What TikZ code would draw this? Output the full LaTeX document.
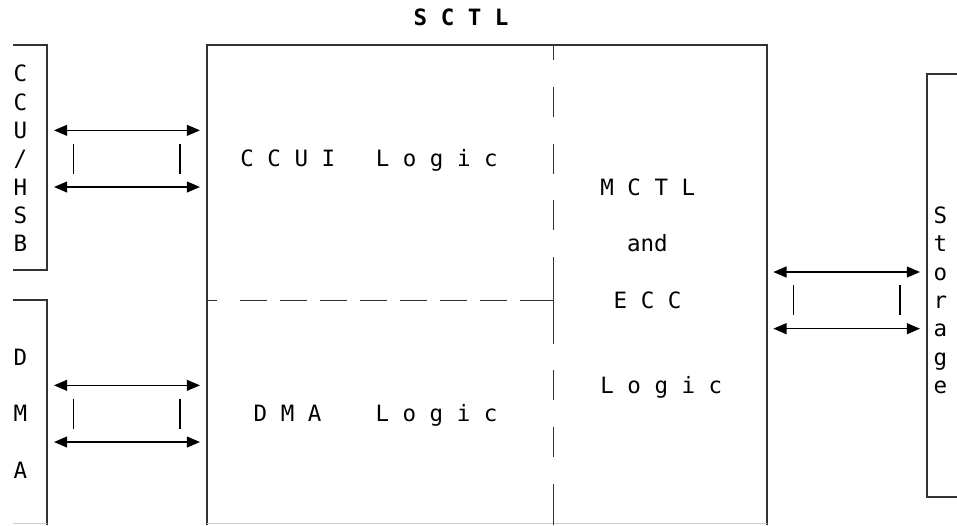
\documentclass[tikz,border=0pt]{standalone}
\usepackage{fontspec}
\setmonofont{DejaVu Sans Mono}
\usetikzlibrary{arrows.meta}
\definecolor{BoxLine}{HTML}{333333}
\definecolor{FaintLine}{HTML}{CCCCCC}

\tikzset{
  gridtxt/.style={anchor=west, inner sep=0pt, text height=9.2pt, text depth=0pt,
    font=\ttfamily\fontsize{12.8}{15}\selectfont},
  boxline/.style={BoxLine, line width=1.1pt},
  divider/.style={BoxLine, line width=0.95pt},
  link/.style={black, line width=0.85pt,
    {Triangle[length=7.5pt,width=6.2pt]}-{Triangle[length=7.5pt,width=6.2pt]}},
  bar/.style={black, line width=0.8pt}
}

\begin{document}
\begin{tikzpicture}[x=0.26667cm, y=-0.56667cm]
  \useasboundingbox (-0.5,-0.6) rectangle (71.275,17.93);
  % Title
  \node[gridtxt, font=\ttfamily\bfseries\fontsize{12.8}{15}\selectfont] (title)
    at (30.5,0) {S~C~T~L};
  % SCTL outline
  \draw[boxline] (15,17.93) -- (15,1) -- (57,1) -- (57,17.93);
  \draw[FaintLine, line width=0.6pt] (15,17.88) -- (57,17.88);
  % inner dividers
  \draw[divider, dash pattern=on 17.07pt off 15.17pt, dash phase=8.54pt]
    (41,1) -- (41,17.93);
  \draw[divider] (41,9) -- (41,11);
  \draw[divider] (41,17) -- (41,17.93);
  \draw[divider] (15,10) -- (15.8,10);
  \foreach \c in {17.5,20.5,...,35.5}
    \draw[divider] (\c,10) -- ++(2,0);
  \draw[divider] (38.5,10) -- (41,10);
  % outside boxes
  \draw[boxline] (0.475,1) -- (3,1) -- (3,8.93) -- (0.475,8.93);
  \draw[boxline] (0.475,10) -- (3,10) -- (3,17.93);
  \draw[FaintLine, line width=0.6pt] (0.475,17.88) -- (3,17.88);
  \draw[boxline] (71.3,2) -- (69,2) -- (69,16.94) -- (71.3,16.94);

  % Labels
  \foreach \ch [count=\i from 2] in {C,C,U,/,H,S,B}
    \node[gridtxt] (hsb\i) at (0.5,\i) {\ch};
  \node[gridtxt] (dmaD) at (0.5,12) {D};
  \node[gridtxt] (dmaM) at (0.5,14) {M};
  \node[gridtxt] (dmaA) at (0.5,16) {A};
  \foreach \ch [count=\i from 7] in {S,t,o,r,a,g,e}
    \node[gridtxt] (stor\i) at (69.5,\i) {\ch};
  \node[gridtxt] (ccuilogic) at (17.5,5) {C~C~U~I~~~L~o~g~i~c};
  \node[gridtxt] (dmalogic) at (18.5,14) {D~M~A~~~~L~o~g~i~c};
  \node[gridtxt] (mctl) at (44.5,6) {M~C~T~L};
  \node[gridtxt] (and) at (46.5,8) {and};
  \node[gridtxt] (ecc) at (45.5,10) {E~C~C};
  \node[gridtxt] (mlogic) at (44.5,13) {L~o~g~i~c};

  % Interfaces
  \coordinate (hsbTop) at (3.55,4);   \coordinate (ccuiTop) at (14.5,4);
  \coordinate (hsbBot) at (3.55,6);   \coordinate (ccuiBot) at (14.5,6);
  \coordinate (dmaTop) at (3.55,13);  \coordinate (dlogTop) at (14.5,13);
  \coordinate (dmaBot) at (3.55,15);  \coordinate (dlogBot) at (14.5,15);
  \coordinate (mctlTop) at (57.5,9);  \coordinate (storTop) at (68.5,9);
  \coordinate (mctlBot) at (57.5,11); \coordinate (storBot) at (68.5,11);
  \draw[link] (hsbTop) -- (ccuiTop);
  \draw[link] (hsbBot) -- (ccuiBot);
  \draw[link] (dmaTop) -- (dlogTop);
  \draw[link] (dmaBot) -- (dlogBot);
  \draw[link] (mctlTop) -- (storTop);
  \draw[link] (mctlBot) -- (storBot);
  % bus bars
  \foreach \c/\r in {5/5, 13/5, 5/14, 13/14, 59/10, 67/10}
    \draw[bar] (\c,\r-0.53) -- (\c,\r+0.53);
\end{tikzpicture}
\end{document}
